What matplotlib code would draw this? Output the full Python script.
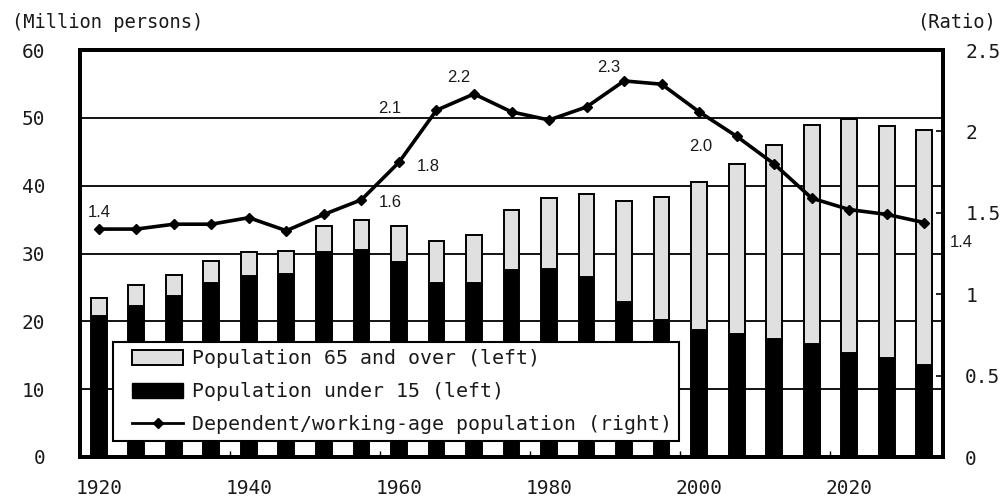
import matplotlib.pyplot as plt
from matplotlib.patches import Patch, Rectangle
from matplotlib.lines import Line2D
from matplotlib.legend_handler import HandlerPatch, HandlerBase

years = list(range(1920, 2031, 5))
under15 = [20.8, 22.3, 23.7, 25.6, 26.7, 27.0, 30.2, 30.5, 28.7, 25.7, 25.7, 27.6,
           27.7, 26.5, 22.9, 20.2, 18.7, 18.1, 17.4, 16.6, 15.3, 14.6, 13.5]
over65 = [2.7, 3.0, 3.2, 3.3, 3.5, 3.3, 3.9, 4.5, 5.4, 6.1, 7.1, 8.8,
          10.5, 12.2, 14.8, 18.2, 21.9, 25.1, 28.6, 32.4, 34.6, 34.2, 34.7]
ratio = [1.40, 1.40, 1.43, 1.43, 1.47, 1.39, 1.49, 1.58, 1.81, 2.13, 2.23, 2.12,
         2.07, 2.15, 2.31, 2.29, 2.12, 1.97, 1.80, 1.59, 1.52, 1.49, 1.44]
labelled_years = [1920, 1955, 1960, 1965, 1970, 1990, 2005, 2030]

MONO = 'DejaVu Sans Mono'
TXT = '#1a1a1a'
GRAY = '#e0e0e0'
INSET = 9  # points of empty space left of each legend key

# label offsets in points, keyed by year
label_offsets = {1920: (0, 12), 1955: (21, -2), 1960: (21, -3), 1965: (-34, 1),
                 1970: (-11, 12), 1990: (-11, 10), 2005: (-26, -7), 2030: (27, -14)}


def box_key(legend, orig_handle, xdescent, ydescent, width, height, fontsize):
    return Rectangle((-xdescent + INSET, -ydescent), width - INSET, height)


class LineKey(HandlerBase):
    def create_artists(self, legend, orig_handle, xdescent, ydescent, width, height,
                       fontsize, trans):
        x0, x1 = -xdescent + INSET, -xdescent + width
        y = height / 2 - ydescent
        line = Line2D([x0, x1], [y, y], color='black', linewidth=2, transform=trans)
        dot = Line2D([(x0 + x1) / 2], [y], color='black', marker='D', markersize=5,
                     linestyle='none', transform=trans)
        return [line, dot]


fig = plt.figure(figsize=(10.05, 5.03), dpi=100)
ax = fig.add_axes([80 / 1005, 1 - 457 / 503, 863 / 1005, 407 / 503])
ax2 = ax.twinx()

ax.bar(years, under15, width=2.1, color='black', edgecolor='black', linewidth=1.4, zorder=3)
ax.bar(years, over65, bottom=under15, width=2.1, color=GRAY, edgecolor='black',
       linewidth=1.4, zorder=3)

ax.set_xlim(1917.5, 2032.5)
ax.set_ylim(0, 60)
ax.set_yticks(range(0, 61, 10))
ax.set_xticks(range(1920, 2021, 20))
ax.set_xticks([1937.5, 1957.5, 1977.5, 1997.5, 2017.5], minor=True)
for y in range(10, 60, 10):
    ax.axhline(y, color='black', linewidth=1.3, zorder=1)

ax.tick_params(axis='y', length=0, pad=25, labelsize=14, labelcolor=TXT)
ax.tick_params(axis='x', which='major', length=0, pad=16, labelsize=14, labelcolor=TXT)
ax.tick_params(axis='x', which='minor', direction='in', length=4, width=1)
for lab in ax.get_xticklabels() + ax.get_yticklabels():
    lab.set_family(MONO)

ax2.plot(years, ratio, color='black', linewidth=2.6, marker='D', markersize=5, zorder=4)
ax2.set_ylim(0, 2.5)
ax2.set_yticks([0, 0.5, 1, 1.5, 2, 2.5])
ax2.set_yticklabels(['0', '0.5', '1', '1.5', '2', '2.5'])
ax2.tick_params(axis='y', direction='in', length=5, width=1.2, pad=16,
                labelsize=14, labelcolor=TXT)
for lab in ax2.get_yticklabels():
    lab.set_family(MONO)

for yr in labelled_years:
    v = ratio[years.index(yr)]
    ax2.annotate(f"{v:.1f}", xy=(yr, v), xytext=label_offsets[yr],
                 textcoords='offset points', ha='center', va='center',
                 fontsize=12, family='Liberation Sans', color=TXT)

for a in (ax, ax2):
    for s in a.spines.values():
        s.set_linewidth(2.8)
        s.set_color('black')

h_old = Patch(facecolor=GRAY, edgecolor='black', linewidth=1.4)
h_young = Patch(facecolor='black', edgecolor='black')
h_ratio = Line2D([], [], color='black')
labels = ['Population 65 and over (left)', 'Population under 15 (left)',
          'Dependent/working-age population (right)']
leg = ax2.legend([h_old, h_young, h_ratio], labels, loc='lower left',
                 bbox_to_anchor=(0.038, 0.039), borderaxespad=0,
                 prop={'family': MONO, 'size': 14.3},
                 fancybox=False, framealpha=1, edgecolor='black',
                 handlelength=3.2, handleheight=0.75, handletextpad=0.45,
                 labelspacing=0.7, borderpad=0.35,
                 handler_map={Patch: HandlerPatch(patch_func=box_key), Line2D: LineKey()})
leg.get_frame().set_linewidth(1.5)
for t in leg.get_texts():
    t.set_color(TXT)

fig.text(12 / 1005, 1 - 22 / 503, '(Million persons)', family=MONO, fontsize=13.5,
         color=TXT, ha='left', va='center')
fig.text(996 / 1005, 1 - 22 / 503, '(Ratio)', family=MONO, fontsize=13.5,
         color=TXT, ha='right', va='center')

fig.savefig('out.png', dpi=100)
